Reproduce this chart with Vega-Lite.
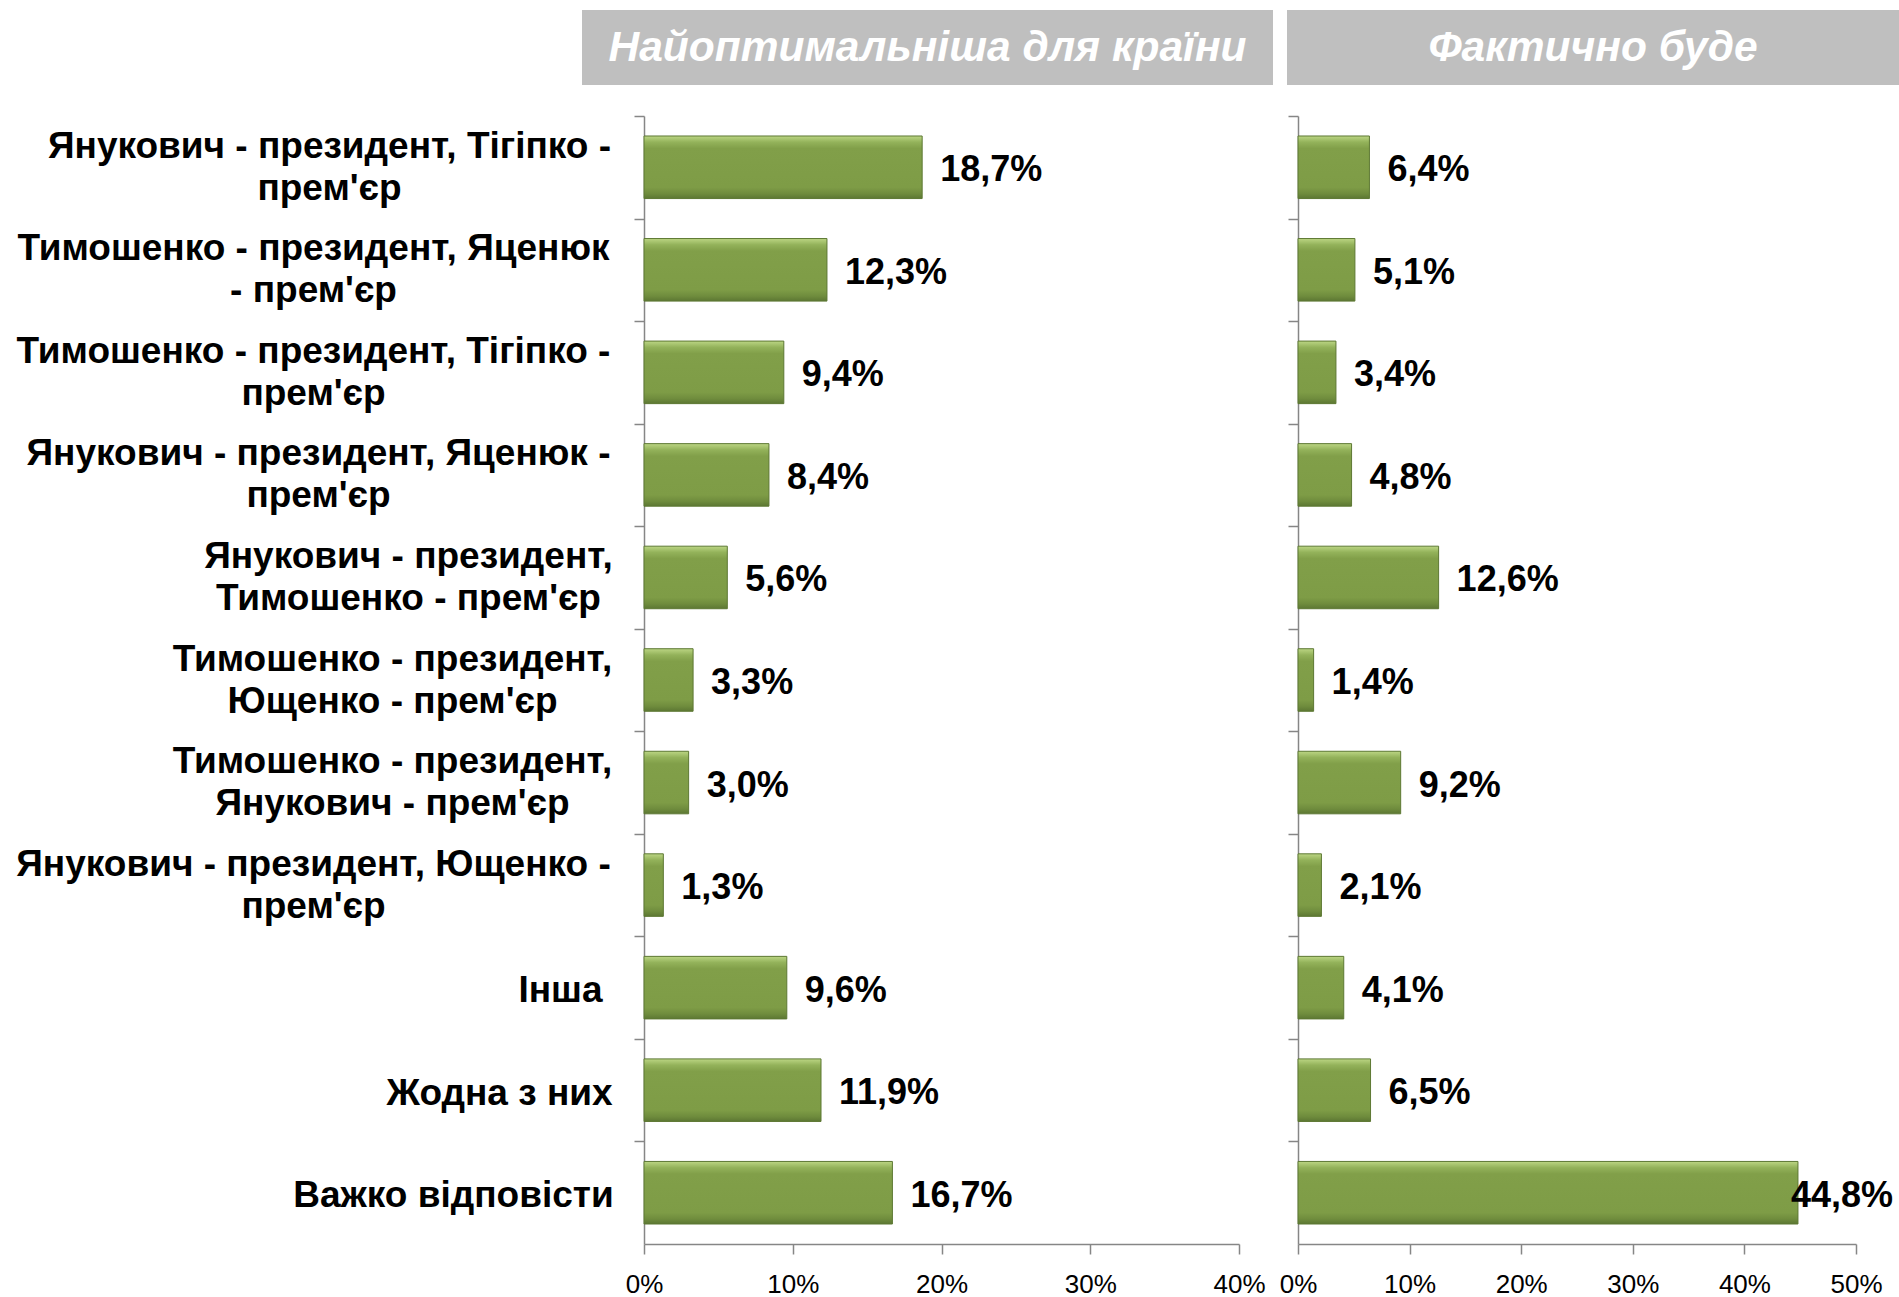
{
  "$schema": "https://vega.github.io/schema/vega-lite/v6.json",
  "padding": {"left": 0, "top": 10, "right": 0, "bottom": 0},
  "background": "white",
  "config": {
    "view": {"stroke": null},
    "font": "Liberation Sans",
    "locale": {"number": {"decimal": ",", "thousands": " ", "grouping": [3], "currency": ["", ""]}}
  },
  "datasets": {
    "rows": [
      {"cat": "Янукович - президент, Тігіпко -\nпрем'єр", "opt": 0.187, "fact": 0.064},
      {"cat": "Тимошенко - президент, Яценюк\n- прем'єр", "opt": 0.123, "fact": 0.051},
      {"cat": "Тимошенко - президент, Тігіпко -\nпрем'єр", "opt": 0.094, "fact": 0.034},
      {"cat": "Янукович - президент, Яценюк -\nпрем'єр", "opt": 0.084, "fact": 0.048},
      {"cat": "Янукович - президент,\nТимошенко - прем'єр", "opt": 0.056, "fact": 0.126},
      {"cat": "Тимошенко - президент,\nЮщенко - прем'єр", "opt": 0.033, "fact": 0.014},
      {"cat": "Тимошенко - президент,\nЯнукович - прем'єр", "opt": 0.030, "fact": 0.092},
      {"cat": "Янукович - президент, Ющенко -\nпрем'єр", "opt": 0.013, "fact": 0.021},
      {"cat": "Інша", "opt": 0.096, "fact": 0.041},
      {"cat": "Жодна з них", "opt": 0.119, "fact": 0.065},
      {"cat": "Важко відповісти", "opt": 0.167, "fact": 0.448}
    ]
  },
  "bounds": "full",
  "spacing": 30,
  "vconcat": [
    {
      "bounds": "flush",
      "spacing": 14,
      "hconcat": [
        {"width": 568, "height": 75, "data": {"values": [{"t": ""}]}, "mark": {"type": "text"}, "encoding": {"text": {"field": "t"}}},
        {
          "width": 691, "height": 75,
          "data": {"values": [{"t": "Найоптимальніша для країни"}]},
          "layer": [
            {"mark": {"type": "rect", "color": "#BFBFBF"}, "encoding": {}},
            {"mark": {"type": "text", "color": "#FFFFFF", "fontSize": 42.5, "fontWeight": "bold", "fontStyle": "italic", "font": "Liberation Sans", "baseline": "middle", "align": "center"}, "encoding": {"text": {"field": "t"}}}
          ]
        },
        {
          "width": 612, "height": 75,
          "data": {"values": [{"t": "Фактично буде"}]},
          "layer": [
            {"mark": {"type": "rect", "color": "#BFBFBF"}, "encoding": {}},
            {"mark": {"type": "text", "color": "#FFFFFF", "fontSize": 42.5, "fontWeight": "bold", "fontStyle": "italic", "font": "Liberation Sans", "baseline": "middle", "align": "center"}, "encoding": {"text": {"field": "t"}}}
          ]
        }
      ]
    },
    {
      "bounds": "flush",
      "spacing": 59,
      "hconcat": [
        {"width": 585, "height": 1128, "data": {"values": [{"t": ""}]}, "mark": {"type": "text"}, "encoding": {"text": {"field": "t"}}},
        {
          "width": 595, "height": 1128,
          "data": {"name": "rows"},
          "encoding": {
            "y": {
              "field": "cat", "type": "nominal", "sort": null, "title": null,
              "scale": {"paddingInner": 0.39, "paddingOuter": 0.195},
              "axis": {
                "domainColor": "#868686", "domainWidth": 1.5,
                "tickColor": "#868686", "tickWidth": 1.5, "tickSize": 10,
                "bandPosition": 0, "tickOffset": -20,
                "labelOffset": {"condition": {"test": "test(/\\n/, datum.value)", "value": -1}, "value": 23},
                "labelAlign": "center", "labelBaseline": "middle",
                "labelFont": "Liberation Sans", "labelFontSize": 37, "labelFontWeight": "bold",
                "labelColor": "#000000", "labelLineHeight": 42, "labelLimit": 0,
                "labelExpr": "split(datum.label, '\\n')",
                "labelPadding": {
                  "condition": [
                    {"test": "test(/^Інша/, datum.value)", "value": 74},
                    {"test": "test(/^Жодна/, datum.value)", "value": 135},
                    {"test": "test(/^Важко/, datum.value)", "value": 181},
                    {"test": "test(/Тимошенко - прем/, datum.value)", "value": 226},
                    {"test": "test(/(Ющенко|Янукович) - прем/, datum.value)", "value": 242},
                    {"test": "test(/^Янукович - президент, Тігіпко/, datum.value)", "value": 305},
                    {"test": "test(/^Янукович - президент, Яценюк/, datum.value)", "value": 316}
                  ],
                  "value": 321
                }
              }
            }
          },
          "layer": [
            {
              "mark": {
                "type": "bar",
                "color": {"gradient": "linear", "x1": 0, "y1": 0, "x2": 0, "y2": 1, "stops": [
                  {"offset": 0, "color": "#bcd684"}, {"offset": 0.1, "color": "#93b25a"}, {"offset": 0.2, "color": "#819f49"},
                  {"offset": 0.82, "color": "#7e9c46"}, {"offset": 0.92, "color": "#6f8c3d"}, {"offset": 1, "color": "#5c7733"}]},
                "stroke": "#5d7833", "strokeWidth": 1
              },
              "encoding": {
                "x": {
                  "field": "opt", "type": "quantitative", "title": null,
                  "scale": {"domain": [0, 0.4], "nice": false},
                  "axis": {
                    "values": [0, 0.1, 0.2, 0.3, 0.4], "format": ".0%", "grid": false,
                    "domainColor": "#868686", "domainWidth": 1.5,
                    "tickColor": "#868686", "tickWidth": 1.5, "tickSize": 10,
                    "labelFont": "Liberation Sans", "labelFontSize": 26, "labelColor": "#000000",
                    "labelPadding": 17, "labelFlush": false
                  }
                }
              }
            },
            {
              "mark": {"type": "text", "align": "left", "baseline": "middle", "dx": 18, "dy": 3, "fontSize": 36, "fontWeight": "bold", "font": "Liberation Sans", "color": "#000000"},
              "encoding": {
                "x": {"field": "opt", "type": "quantitative"},
                "text": {"field": "opt", "type": "quantitative", "format": ".1%"}
              }
            }
          ]
        },
        {
          "width": 558, "height": 1128,
          "data": {"name": "rows"},
          "encoding": {
            "y": {
              "field": "cat", "type": "nominal", "sort": null, "title": null,
              "scale": {"paddingInner": 0.39, "paddingOuter": 0.195},
              "axis": {
                "labels": false,
                "domainColor": "#868686", "domainWidth": 1.5,
                "tickColor": "#868686", "tickWidth": 1.5, "tickSize": 10,
                "bandPosition": 0, "tickOffset": -20
              }
            }
          },
          "layer": [
            {
              "mark": {
                "type": "bar",
                "color": {"gradient": "linear", "x1": 0, "y1": 0, "x2": 0, "y2": 1, "stops": [
                  {"offset": 0, "color": "#bcd684"}, {"offset": 0.1, "color": "#93b25a"}, {"offset": 0.2, "color": "#819f49"},
                  {"offset": 0.82, "color": "#7e9c46"}, {"offset": 0.92, "color": "#6f8c3d"}, {"offset": 1, "color": "#5c7733"}]},
                "stroke": "#5d7833", "strokeWidth": 1
              },
              "encoding": {
                "x": {
                  "field": "fact", "type": "quantitative", "title": null,
                  "scale": {"domain": [0, 0.5], "nice": false},
                  "axis": {
                    "values": [0, 0.1, 0.2, 0.3, 0.4, 0.5], "format": ".0%", "grid": false,
                    "domainColor": "#868686", "domainWidth": 1.5,
                    "tickColor": "#868686", "tickWidth": 1.5, "tickSize": 10,
                    "labelFont": "Liberation Sans", "labelFontSize": 26, "labelColor": "#000000",
                    "labelPadding": 17, "labelFlush": false
                  }
                }
              }
            },
            {
              "transform": [{"filter": "datum.fact < 0.4"}],
              "mark": {"type": "text", "align": "left", "baseline": "middle", "dx": 18, "dy": 3, "fontSize": 36, "fontWeight": "bold", "font": "Liberation Sans", "color": "#000000"},
              "encoding": {
                "x": {"field": "fact", "type": "quantitative"},
                "text": {"field": "fact", "type": "quantitative", "format": ".1%"}
              }
            },
            {
              "transform": [{"filter": "datum.fact >= 0.4"}],
              "mark": {"type": "text", "align": "left", "baseline": "middle", "dx": -7, "dy": 3, "fontSize": 36, "fontWeight": "bold", "font": "Liberation Sans", "color": "#000000"},
              "encoding": {
                "x": {"field": "fact", "type": "quantitative"},
                "text": {"field": "fact", "type": "quantitative", "format": ".1%"}
              }
            }
          ]
        }
      ]
    }
  ]
}
